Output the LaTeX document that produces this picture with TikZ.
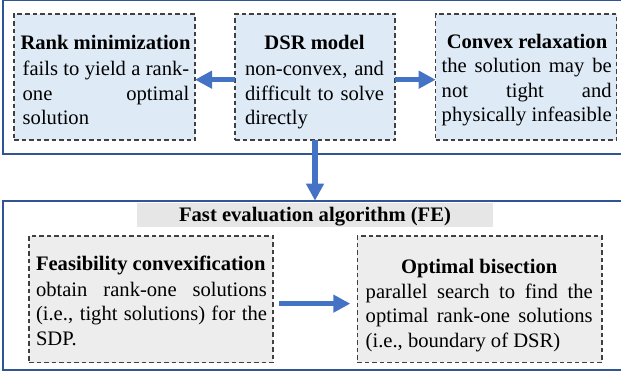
\documentclass[tikz,border=0pt]{standalone}
\usepackage{fontspec}
\setmainfont{Liberation Serif}
\usetikzlibrary{arrows.meta}
\definecolor{outerblue}{RGB}{47,85,151}
\definecolor{arrowblue}{RGB}{68,114,196}
\definecolor{boxblue}{RGB}{222,235,247}
\definecolor{boxgray}{RGB}{237,237,237}
\definecolor{bandgray}{RGB}{231,230,230}
\definecolor{dashgray}{RGB}{64,64,64}
\newcommand\jline[2]{\makebox[#1][s]{\strut #2}}
\newcommand\lline[2]{\makebox[#1][l]{\strut #2}}
\begin{document}
\begin{tikzpicture}[x=1pt,y=-1pt,
  outerbox/.style={draw=outerblue,line width=2pt,inner sep=0pt,outer sep=0pt},
  dbox/.style={draw=dashgray,line width=1.3pt,dash pattern=on 4.5pt off 3pt,inner sep=0pt,outer sep=0pt},
  bluebox/.style={dbox,fill=boxblue},
  graybox/.style={dbox,fill=boxgray},
  txt/.style={font=\fontsize{20.6}{24.6}\selectfont,inner sep=0pt,outer sep=0pt},
  body/.style={txt,align=left,anchor=north west},
  title/.style={txt,font=\fontsize{20.6}{24.6}\selectfont\bfseries,anchor=base},
  bigarrow/.style={draw=arrowblue,line width=5.5pt,-{Triangle[width=17pt,length=17pt]}}]
\useasboundingbox (0,0) rectangle (621,372);
% outer frames
\node[outerbox,minimum width=637pt,minimum height=154pt] (touter) at (321.5,77) {};
\node[outerbox,minimum width=637pt,minimum height=169.3pt] (fouter) at (321.5,285.35) {};
% top boxes
\node[bluebox,minimum width=181pt,minimum height=126pt] (rank) at (104.5,77) {};
\node[bluebox,minimum width=160pt,minimum height=126pt] (dsr) at (315,77) {};
\node[bluebox,minimum width=181pt,minimum height=126pt] (convex) at (526.2,77) {};
% bottom boxes
\node[fill=bandgray,inner sep=0pt,outer sep=0pt,minimum width=356pt,minimum height=24pt,
      font=\fontsize{20.6}{24.6}\selectfont\bfseries,text height=14pt,text depth=0pt] (fe) at (315,214.7) {Fast evaluation algorithm (FE)};
\node[graybox,minimum width=244pt,minimum height=126.7pt] (feas) at (151,299.35) {};
\node[graybox,minimum width=244.7pt,minimum height=126.3pt] (opt) at (479.65,299.15) {};
% titles
\node[title] (rankt) at (105.5,49) {Rank minimization};
\node[title] (dsrt) at (314.5,49) {DSR model};
\node[title] (convext) at (527,48.3) {Convex relaxation};
\node[title,anchor=base west] (feast) at (36,270.7) {Feasibility convexification};
\node[title] (optt) at (479.2,273.3) {Optimal bisection};
% bodies
\node[body] (rankb) at (22.7,58.3) {\jline{166.6pt}{fails to yield a rank-}\\\jline{166.6pt}{one optimal}\\\lline{166.6pt}{solution}};
\node[body] (dsrb) at (245,58.3) {\jline{139pt}{non-convex, and}\\\jline{139pt}{difficult to solve}\\\lline{139pt}{directly}};
\node[body] (convexb) at (441.7,55.5) {\jline{170pt}{the solution may be}\\\jline{170pt}{not tight and}\\\jline{170pt}{physically infeasible}};
\node[body] (feasb) at (36,278.8) {\jline{231pt}{obtain rank-one solutions}\\\jline{231pt}{(i.e., tight solutions) for the}\\\lline{231pt}{SDP.}};
\node[body] (optb) at (365.7,281.1) {\jline{227pt}{parallel search to find the}\\\jline{227pt}{optimal rank-one solutions}\\\lline{227pt}{(i.e., boundary of DSR)}};
% arrows
\draw[bigarrow] ([yshift=-2.7pt]dsr.west) -- ([yshift=-2.7pt]rank.east);
\draw[bigarrow] ([yshift=-2.7pt]dsr.east) -- ([yshift=-2.7pt]convex.west);
\draw[bigarrow] (dsr.south) -- (dsr.south |- fouter.north);
\draw[bigarrow,shorten <=6pt,shorten >=7pt] ([yshift=-4.3pt]feas.east) -- ([yshift=-4.3pt]feas.east -| opt.west);
\end{tikzpicture}
\end{document}
